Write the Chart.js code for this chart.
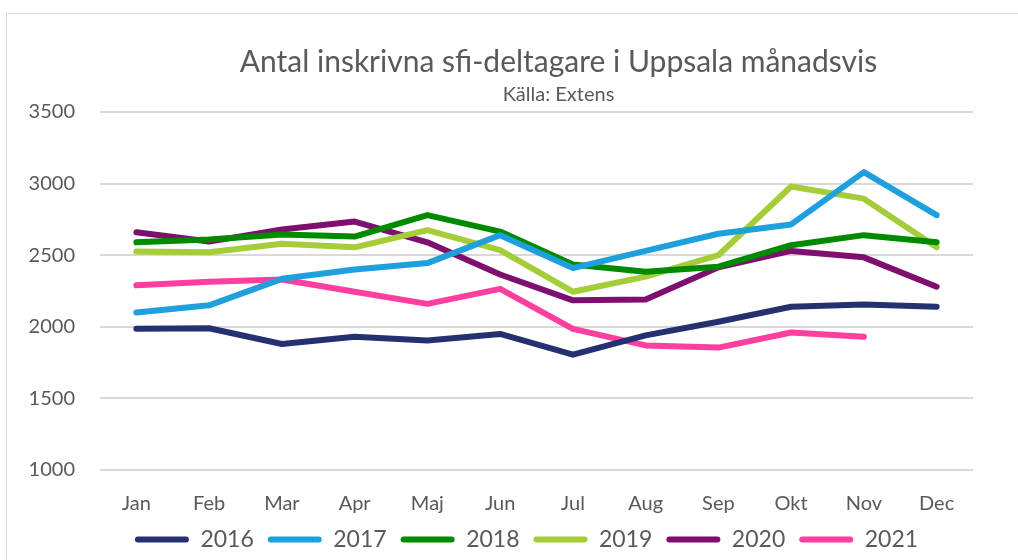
<!DOCTYPE html>
<html>
<head>
<meta charset="utf-8">
<script src="https://cdn.jsdelivr.net/npm/chart.js@4.4.1/dist/chart.umd.min.js"></script>
<style>
  html, body { margin: 0; padding: 0; background: #fff; overflow: hidden; }
  #ram {
    position: absolute; left: 6px; top: 13px; width: 1100px; height: 600px;
    border: 1px solid #d9d9d9; box-sizing: border-box;
  }
  #wrap { position: absolute; left: 0; top: 0; width: 1018px; height: 577px; }
</style>
</head>
<body>
<div id="ram"></div>
<div id="wrap"><canvas id="grafico"></canvas></div>
<script>
const manader = ["Jan", "Feb", "Mar", "Apr", "Maj", "Jun", "Jul", "Aug", "Sep", "Okt", "Nov", "Dec"];

const ar2016 = [1987, 1990, 1880, 1930, 1905, 1950, 1805, 1940, 2035, 2140, 2155, 2140];
const ar2017 = [2100, 2150, 2335, 2400, 2445, 2640, 2410, 2530, 2650, 2715, 3080, 2780];
const ar2018 = [2590, 2610, 2645, 2630, 2780, 2665, 2435, 2385, 2420, 2570, 2640, 2590];
const ar2019 = [2525, 2520, 2580, 2555, 2675, 2535, 2245, 2350, 2500, 2980, 2895, 2555];
const ar2020 = [2660, 2595, 2680, 2735, 2590, 2365, 2185, 2190, 2415, 2530, 2485, 2280];
const ar2021 = [2290, 2315, 2330, 2245, 2160, 2265, 1985, 1870, 1855, 1960, 1930, null];

const farger = ["#253070", "#1ea0dc", "#008a00", "#a5cd39", "#7f0f6e", "#ff3fa0"];
const etiketter = ["2016", "2017", "2018", "2019", "2020", "2021"];
const serier = [ar2016, ar2017, ar2018, ar2019, ar2020, ar2021];

const textfarg = "#595959";
const typsnitt = "Lato, 'Open Sans', sans-serif";

// titel och förklaring står inte mitt över diagramytan i originalet
const flytta = {
  id: "flytta",
  afterLayout(chart) {
    const skjut = (box, dx) => { box.left += dx; box.right += dx; };
    chart.boxes
      .filter((b) => b.position === "top" && b.options && b.options.text !== undefined)
      .forEach((b) => skjut(b, 72));
    const leg = chart.legend;
    if (leg) {
      skjut(leg, 40);
      const h = leg.bottom - leg.top;
      leg.top = 514;
      leg.bottom = 514 + h;
    }
  },
};

const ctx = document.getElementById("grafico").getContext("2d");

new Chart(ctx, {
  type: "line",
  data: {
    labels: manader,
    datasets: serier.map((s, i) => ({
      label: etiketter[i],
      data: s,
      borderColor: farger[i],
      backgroundColor: farger[i],
      borderWidth: 6,
      pointRadius: 0,
      tension: 0,
      borderCapStyle: "round",
      borderJoinStyle: "round",
    })),
  },
  plugins: [flytta],
  options: {
    responsive: true,
    maintainAspectRatio: false,
    animation: false,
    layout: { padding: { left: 0, right: 45, bottom: 0 } },
    plugins: {
      title: {
        display: true,
        text: "Antal inskrivna sfi-deltagare i Uppsala månadsvis",
        color: textfarg,
        font: { family: typsnitt, size: 30, weight: "normal" },
        padding: { top: 44, bottom: 3 },
      },
      subtitle: {
        display: true,
        text: "Källa: Extens",
        color: textfarg,
        font: { family: typsnitt, size: 20, weight: "normal" },
        padding: { top: 0, bottom: 5 },
      },
      legend: {
        position: "bottom",
        labels: {
          color: textfarg,
          font: { family: typsnitt, size: 23 },
          boxWidth: 54,
          boxHeight: 6,
          padding: 14,
          generateLabels: (chart) =>
            chart.data.datasets.map((d, i) => ({
              text: d.label,
              fillStyle: d.borderColor,
              strokeStyle: d.borderColor,
              lineWidth: 0,
              borderRadius: 3,
              fontColor: textfarg,
              datasetIndex: i,
              hidden: false,
            })),
        },
      },
      tooltip: { enabled: false },
    },
    scales: {
      x: {
        offset: true,
        afterFit: (scale) => { scale.height = 60; },
        grid: { display: false, drawTicks: false },
        border: { display: false },
        ticks: { color: textfarg, font: { family: typsnitt, size: 20 }, padding: 22, maxRotation: 0 },
      },
      y: {
        min: 1000,
        max: 3500,
        afterFit: (scale) => { scale.width = 100; },
        ticks: {
          stepSize: 500,
          color: textfarg,
          font: { family: typsnitt, size: 20 },
          padding: 25,
          callback: (v) => String(v),
        },
        grid: { color: "#d9d9d9", lineWidth: 2, drawTicks: false },
        border: { display: false },
      },
    },
  },
});
</script>
</body>
</html>
